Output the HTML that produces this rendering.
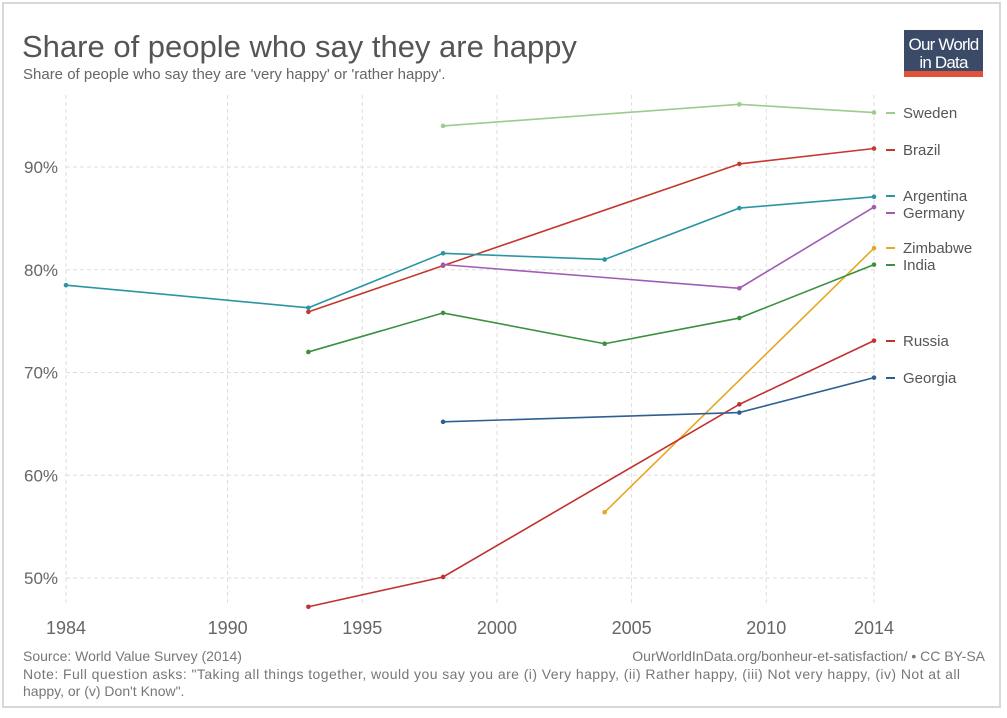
<!DOCTYPE html>
<html><head><meta charset="utf-8"><style>
body{margin:0;width:1007px;height:718px;background:#fff;overflow:hidden;font-family:"Liberation Sans Narrow","Liberation Sans",sans-serif;}
#frame{position:absolute;left:2px;top:2px;width:999px;height:706px;border:2px solid #d8d8d8;box-sizing:border-box;}
svg text{font-family:"Liberation Sans Narrow","Liberation Sans",sans-serif;}
</style></head><body>
<div id="frame"></div>
<svg id="chart" width="1007" height="718" style="position:absolute;left:0;top:0">
<text x="22" y="57" font-size="31" fill="#555" font-family="Liberation Sans">Share of people who say they are happy</text>
<text x="23" y="79" font-size="15" fill="#666" font-family="Liberation Sans">Share of people who say they are 'very happy' or 'rather happy'.</text>
<g>
<rect x="904" y="30" width="79" height="42" fill="#3b4a67"/>
<rect x="904" y="71" width="79" height="6" fill="#e0533b"/>
<text x="943.5" y="50" font-size="17" fill="#fff" text-anchor="middle" font-family="Liberation Sans" letter-spacing="-0.8">Our World</text>
<text x="943.5" y="68" font-size="17" fill="#fff" text-anchor="middle" font-family="Liberation Sans" letter-spacing="-0.8">in Data</text>
</g>
<g id="grid"></g><g id="series"></g><g id="labels"></g>
<text x="23" y="661" font-size="14" fill="#777">Source: World Value Survey (2014)</text>
<text x="985" y="661" font-size="14" fill="#777" text-anchor="end">OurWorldInData.org/bonheur-et-satisfaction/ • CC BY-SA</text>
<text x="23" y="679" font-size="14" fill="#777" textLength="937" lengthAdjust="spacing">Note: Full question asks: "Taking all things together, would you say you are (i) Very happy, (ii) Rather happy, (iii) Not very happy, (iv) Not at all</text>
<text x="23" y="696" font-size="14" fill="#777">happy, or (v) Don't Know".</text>
</svg>
<script>
const xTicks=[1984,1990,1995,2000,2005,2010,2014];
const yTicks=[50,60,70,80,90];
const names=["Sweden","Brazil","Argentina","Germany","Zimbabwe","India","Russia","Georgia"];
const colors=["#9ccb8e","#c4392f","#2b96a3","#a05cb5","#e6a722","#3a9140","#c0322f","#2f5f91"];
const years=[[1998,2009,2014],[1993,1998,2009,2014],[1984,1993,1998,2004,2009,2014],[1998,2009,2014],[2004,2014],[1993,1998,2004,2009,2014],[1993,1998,2009,2014],[1998,2009,2014]];
const values=[[94.0,96.1,95.3],[75.9,80.4,90.3,91.8],[78.5,76.3,81.6,81.0,86.0,87.1],[80.5,78.2,86.1],[56.4,82.1],[72.0,75.8,72.8,75.3,80.5],[47.2,50.1,66.9,73.1],[65.2,66.1,69.5]];
const labelY=[113,150,196,213,248,265,341,378];
const X=y=>66+(y-1984)*(874-66)/30;
const Y=v=>578-(v-50)*(578-167)/40;
const ns="http://www.w3.org/2000/svg";
function mk(t,a,p){const e=document.createElementNS(ns,t);for(const k in a)e.setAttribute(k,a[k]);p.appendChild(e);return e;}
const g=document.getElementById('grid'),s=document.getElementById('series'),lb=document.getElementById('labels');
xTicks.forEach(t=>{
 const l=mk('line',{x1:X(t),x2:X(t),y1:95,y2:605,stroke:'#ddd','stroke-dasharray':'4,3'},g);
 
 
 const tx=mk('text',{x:X(t),y:634,'font-size':18,fill:'#666','text-anchor':'middle'},g);tx.textContent=t;
 
 
});
yTicks.forEach(t=>{
 const l=mk('line',{x1:66,x2:874,y1:Y(t),y2:Y(t),stroke:'#ddd','stroke-dasharray':'4,3'},g);
 
 
 const tx=mk('text',{x:24,y:Y(t)+6,'font-size':17,fill:'#666'},g);tx.textContent=t+'%';
 
 
});
names.forEach((n,i)=>{
 const pts=years[i].map((y,j)=>X(y)+','+Y(values[i][j])).join(' ');
 const pl=mk('polyline',{points:pts,fill:'none',stroke:colors[i],'stroke-width':1.6},s);
 
 
 years[i].forEach((y,j)=>{
  const c=mk('circle',{cx:X(y),cy:Y(values[i][j]),r:2.3,fill:colors[i]},s);
  
  
 });
 const m=mk('line',{x1:886,x2:895,y1:labelY[i],y2:labelY[i],stroke:colors[i],'stroke-width':2},lb);
 
 
 const t=mk('text',{x:903,y:labelY[i]+5,'font-size':15,fill:'#555','font-family':'Liberation Sans'},lb);t.textContent=n;
 
 
});
</script>
</body></html>
